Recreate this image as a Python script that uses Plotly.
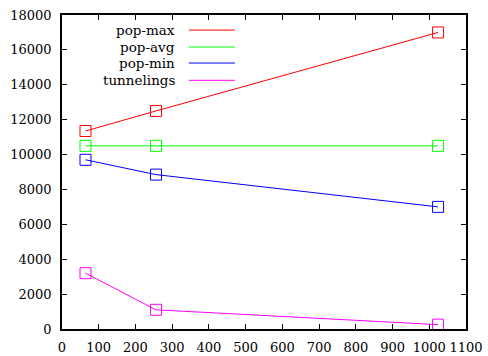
import plotly.graph_objects as go

x_vals = [64, 256, 1024]
pop_max = [11350, 12500, 17000]
pop_avg = [10500, 10500, 10500]
pop_min = [9700, 8850, 7000]
tunnelings = [3200, 1100, 250]

names = ["pop-max", "pop-avg", "pop-min", "tunnelings"]
series = [pop_max, pop_avg, pop_min, tunnelings]
colors = ["#ff0000", "#00ff00", "#0000ff", "#ff00ff"]

FONT = "LiberationSerif, DejaVu Serif"
fig = go.Figure()
for n, s, c in zip(names, series, colors):
    fig.add_trace(go.Scatter(
        x=x_vals, y=s, name=n, mode="lines+markers",
        line=dict(color=c, width=1),
        marker=dict(symbol="square-open", size=11, color=c, line=dict(width=1, color=c)),
        showlegend=False,
    ))

# gnuplot-style legend: right-aligned text, sample line on the right
leg_y = [0.952, 0.898, 0.847, 0.792]
for n, c, yy in zip(names, colors, leg_y):
    fig.add_annotation(x=0.285, y=yy, xref="paper", yref="paper", text=n,
                       showarrow=False, xanchor="right", yanchor="middle",
                       font=dict(family=FONT, size=13.5, color="black"))
    fig.add_shape(type="line", xref="paper", yref="paper",
                  x0=0.314, x1=0.428, y0=yy, y1=yy,
                  line=dict(color=c, width=1))

axis_common = dict(showline=True, linecolor="black", linewidth=1.5, mirror="ticks",
                   ticks="inside", ticklen=5, tickcolor="black", showgrid=False,
                   zeroline=False, automargin=False, tickformat="d", tickangle=0,
                   tickfont=dict(family=FONT, size=13, color="black"))
fig.update_layout(
    width=488, height=356,
    margin=dict(l=62, r=22, t=15, b=27),
    paper_bgcolor="white", plot_bgcolor="white",
    xaxis=dict(range=[0, 1100], dtick=100, tick0=0, ticklabelstandoff=6, **axis_common),
    yaxis=dict(range=[0, 18000], dtick=2000, tick0=0, ticklabelstandoff=6, **axis_common),
)
fig.write_html("out.html")
